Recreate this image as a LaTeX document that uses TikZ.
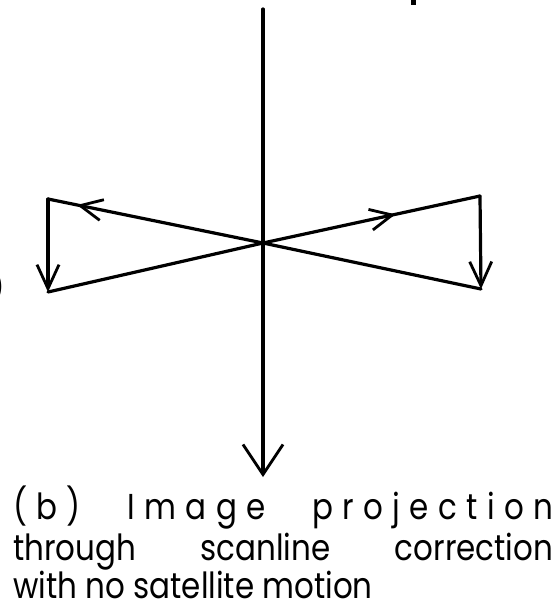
\documentclass[tikz,border=0pt]{standalone}
\usepackage{fontspec}
\newfontfamily\capfont[FakeStretch=0.86]{Poppins}
\usetikzlibrary{arrows.meta, decorations.markings}

\begin{document}
\begin{tikzpicture}[x=1pt, y=-1pt,
    ray/.style={line width=3.2pt, line cap=round, line join=round},
    bigbarb/.style={-{Straight Barb[length=30pt, width=40pt, line width=2.8pt]}},
    sidebarb/.style={-{Straight Barb[length=24pt, width=22pt, line width=2.8pt]}},
    midbarb/.style={postaction={decorate}, decoration={markings,
        mark=at position #1 with {\arrow{Straight Barb[length=22pt, width=21pt, line width=2.8pt]}}}},
    caption/.style={anchor=base west, inner sep=0pt, font=\capfont\fontsize{36}{40}\selectfont}]
    \useasboundingbox (0,0) rectangle (557,606);
    % scan centre and corners
    \coordinate (o) at (263,243);
    \coordinate (top) at (263,9);
    \coordinate (bot) at (263,477);
    \coordinate (lt) at (48,199);
    \coordinate (lb) at (48,292);
    \coordinate (rt) at (480,196);
    \coordinate (rb) at (481,289);
    % axis
    \draw[ray] (top) -- (o);
    \draw[ray, bigbarb] (o) -- (bot);
    % left sweep
    \draw[ray, midbarb=0.865] (o) -- (lt);
    \draw[ray, sidebarb] (lt) -- (lb);
    \draw[ray] (lb) -- (o);
    % right sweep
    \draw[ray, midbarb=0.61] (o) -- (rt);
    \draw[ray, sidebarb] (rt) -- (rb);
    \draw[ray] (rb) -- (o);
    % cut-off bits at the edges
    \fill (411,0) rectangle (416,5);
    \node[anchor=east, inner sep=0pt, font=\capfont\fontsize{26}{30}\selectfont] (cut) at (4,287) {)};
    % caption
    \node[caption] (l1) at (13,519) {\makebox[540pt][s]{(\hfil b\hfil)\hspace{0pt plus 5fil}I\hfil m\hfil a\hfil g\hfil e\hspace{0pt plus 5fil}p\hfil r\hfil o\hfil j\hfil e\hfil c\hfil t\hfil i\hfil o\hfil n}};
    \node[caption] (l2) at (13,560) {\makebox[540pt][s]{through scanline correction}};
    \node[caption] (l3) at (13,598) {with no satellite motion};
\end{tikzpicture}
\end{document}
